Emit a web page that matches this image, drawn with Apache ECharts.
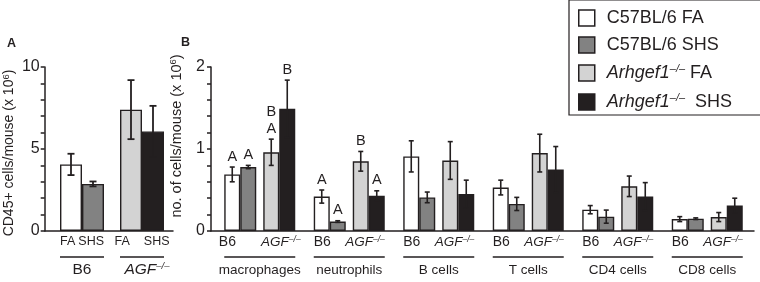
<!DOCTYPE html>
<html>
<head>
<meta charset="utf-8">
<script src="https://cdn.jsdelivr.net/npm/echarts@6/dist/echarts.min.js"></script>
<style>
  html, body { margin: 0; padding: 0; background: #fff; }
  #chart { width: 760px; height: 282px; }
</style>
</head>
<body>
<div id="chart"></div>
<script>
// Panel A: CD45+ cells/mouse (x 10^6), groups [B6, AGF-/-]
const totalGroups = ['B6', 'AGF'];
const totalFA = [4.06, 7.4];
const totalFAErr = [0.65, 1.8];
const totalSHS = [2.87, 6.07];
const totalSHSErr = [0.15, 1.56];

// Panel B: no. of cells/mouse (x 10^6) per cell type
const cellTypes = ['macrophages', 'neutrophils', 'B cells', 'T cells', 'CD4 cells', 'CD8 cells'];
const b6FA = [0.69, 0.42, 0.91, 0.53, 0.26, 0.145];
const b6FAErr = [0.09, 0.08, 0.19, 0.09, 0.05, 0.03];
const b6SHS = [0.78, 0.115, 0.41, 0.33, 0.175, 0.15];
const b6SHSErr = [0.02, 0.01, 0.065, 0.08, 0.08, 0.01];
const agfFA = [0.96, 0.85, 0.86, 0.95, 0.545, 0.17];
const agfFAErr = [0.16, 0.12, 0.23, 0.23, 0.125, 0.055];
const agfSHS = [1.49, 0.43, 0.45, 0.75, 0.42, 0.31];
const agfSHSErr = [0.35, 0.06, 0.17, 0.28, 0.17, 0.09];

// significance letters above the bars
const b6FALetters = ['A', 'A', '', '', '', ''];
const b6SHSLetters = ['A', 'A', '', '', '', ''];
const agfFALetters = ['B\nA', 'B', '', '', '', ''];
const agfSHSLetters = ['B', 'A', '', '', '', ''];

const legendNames = ['C57BL/6 FA', 'C57BL/6 SHS', 'Arhgef1 FA', 'Arhgef1 SHS'];

const font = 'Liberation Sans';
const ink = '#231f20';
const colors = ['#ffffff', '#828282', '#d3d3d3', '#231f20'];

const barWA = 22;
const barWB = 16;
const gapWB = 7;
const offsetsA = [-barWA / 2, barWA / 2];
const offsetsB = [
  -(gapWB / 2 + barWB * 1.5),
  -(gapWB / 2 + barWB / 2),
  gapWB / 2 + barWB / 2,
  gapWB / 2 + barWB * 1.5,
];

const ts = (extra) => Object.assign({ fontFamily: font, color: ink }, extra);

function errorBars(rows, offsets, cap, lw) {
  return function (params, api) {
    const cat = api.value(0);
    const mean = api.value(1);
    const err = api.value(2);
    const slot = api.value(3);
    const x = api.coord([cat, mean])[0] + offsets[slot];
    const hi = api.coord([cat, mean + err])[1];
    const lo = api.coord([cat, mean - err])[1];
    const st = { stroke: ink, lineWidth: lw };
    const kids = [
      { type: 'line', shape: { x1: x, y1: hi, x2: x, y2: lo }, style: st },
      { type: 'line', shape: { x1: x - cap / 2, y1: hi, x2: x + cap / 2, y2: hi }, style: st },
      { type: 'line', shape: { x1: x - cap / 2, y1: lo, x2: x + cap / 2, y2: lo }, style: st },
    ];
    const letter = rows[params.dataIndex].letter;
    if (letter) {
      kids.push({
        type: 'text',
        style: {
          text: letter, x: x, y: hi - 2, align: 'center', verticalAlign: 'bottom',
          fontFamily: font, fontSize: 14.5, lineHeight: 17, fill: ink,
        },
      });
    }
    return { type: 'group', children: kids };
  };
}

const rowsA = [];
totalGroups.forEach((g, i) => {
  rowsA.push({ cat: i, mean: totalFA[i], err: totalFAErr[i], slot: 0, letter: '' });
  rowsA.push({ cat: i, mean: totalSHS[i], err: totalSHSErr[i], slot: 1, letter: '' });
});

const rowsB = [];
const setsB = [
  [b6FA, b6FAErr, b6FALetters],
  [b6SHS, b6SHSErr, b6SHSLetters],
  [agfFA, agfFAErr, agfFALetters],
  [agfSHS, agfSHSErr, agfSHSLetters],
];
setsB.forEach(([vals, errs, letters], s) => {
  vals.forEach((v, i) => rowsB.push({ cat: i, mean: v, err: errs[i], slot: s, letter: letters[i] }));
});

const chart = echarts.init(document.getElementById('chart'));

const supStyle = (size, raise, lh) => ts({ fontSize: size, fontStyle: 'italic', padding: [0, 0, raise, 0], lineHeight: lh });
const isWhole = (v, step) => Math.abs(v / step - Math.round(v / step)) < 1e-6;

// tick marks every 1 (A) / 0.2 (B), labels only on the round ones
const tickStyle = { show: true, inside: false, length: 4, lineStyle: { color: ink, width: 1.5 } };

const option = {
  animation: false,
  backgroundColor: '#fff',
  title: [
    { text: 'A', left: 7, top: 37, padding: 0, textStyle: ts({ fontSize: 12.5, fontWeight: 'bold' }) },
    { text: 'B', left: 181, top: 36, padding: 0, textStyle: ts({ fontSize: 12.5, fontWeight: 'bold' }) },
  ],
  legend: {
    data: legendNames,
    orient: 'vertical',
    left: 569,
    top: 0,
    padding: [9, 30, 3, 9],
    itemWidth: 16,
    itemHeight: 16,
    itemGap: 9,
    icon: 'rect',
    borderColor: ink,
    borderWidth: 1.2,
    backgroundColor: '#fff',
    itemStyle: { borderColor: ink, borderWidth: 1.5 },
    formatter: (name) => {
      const parts = name.split(' ');
      if (parts[0] === 'Arhgef1') {
        return '{pad|}{it|Arhgef1}{sup|–/–}{tx|' + (parts[1] === 'SHS' ? '  SHS' : ' FA') + '}';
      }
      return '{pad|}{tx|' + name + '}';
    },
    textStyle: ts({
      fontSize: 18,
      rich: {
        pad: { width: 7 },
        tx: ts({ fontSize: 18, lineHeight: 18 }),
        it: ts({ fontSize: 18, fontStyle: 'italic', lineHeight: 18 }),
        sup: supStyle(11, 9, 18),
      },
    }),
  },
  grid: [
    { left: 43, top: 67, width: 130, height: 164 },
    { left: 52, top: 67, width: 120, height: 164 },
    { left: 211, top: 67, width: 543, height: 164 },
    { left: 215, top: 67, width: 537, height: 164 },
  ],
  xAxis: [
    {
      gridIndex: 0, type: 'category', data: [''],
      axisLine: { lineStyle: { color: ink, width: 1.5 } },
      axisTick: { show: false }, axisLabel: { show: false },
    },
    {
      gridIndex: 1, type: 'category', data: totalGroups,
      axisLine: { show: false }, axisTick: { show: false },
      axisLabel: {
        interval: 0, margin: 4,
        formatter: (v) => '{f|FA}{h|SHS}\n{hr|}\n' + (v === 'B6' ? '{gb|B6}' : '{sp|}{ga|AGF}{gs|–/–}'),
        rich: {
          f: ts({ fontSize: 12.5, align: 'left', lineHeight: 14 }),
          h: ts({ fontSize: 12.5, align: 'right', lineHeight: 14 }),
          hr: { width: 44, height: 0, borderColor: ink, borderWidth: 1.5, lineHeight: 16 },
          gb: ts({ fontSize: 15.5, lineHeight: 10 }),
          sp: { width: 10, lineHeight: 10 },
          ga: ts({ fontSize: 15.5, fontStyle: 'italic', lineHeight: 10 }),
          gs: supStyle(9.5, 7, 10),
        },
      },
    },
    {
      gridIndex: 2, type: 'category', data: [''],
      axisLine: { lineStyle: { color: ink, width: 1.5 } },
      axisTick: { show: false }, axisLabel: { show: false },
    },
    {
      gridIndex: 3, type: 'category', data: cellTypes,
      axisLine: { show: false }, axisTick: { show: false },
      axisLabel: {
        interval: 0, margin: 4,
        formatter: (v) => '{b|B6}{a|AGF}{s|–/–}\n{hr|}\n{g|' + v + '}',
        rich: {
          b: ts({ fontSize: 14, align: 'left', lineHeight: 15 }),
          a: ts({ fontSize: 13.5, fontStyle: 'italic', align: 'right', lineHeight: 15 }),
          s: Object.assign(supStyle(8.5, 6, 15), { align: 'right' }),
          hr: { width: 71, height: 0, borderColor: ink, borderWidth: 1.5, lineHeight: 14 },
          g: ts({ fontSize: 13.5, lineHeight: 13 }),
        },
      },
    },
  ],
  yAxis: [
    {
      gridIndex: 0, type: 'value', min: 0, max: 10, interval: 1,
      name: 'CD45+ cells/mouse (x 10{s|6})',
      nameLocation: 'middle', nameGap: 25,
      nameTextStyle: ts({
        fontSize: 14, padding: [0, 8, 0, 0],
        rich: { s: ts({ fontSize: 9.5, padding: [0, 0, 7, 0], lineHeight: 14 }) },
      }),
      axisLine: { show: true, lineStyle: { color: ink, width: 1.5 } },
      axisTick: tickStyle,
      splitLine: { show: false },
      axisLabel: ts({ show: true, fontSize: 16, margin: 5, formatter: (v) => (isWhole(v, 5) ? String(v) : '') }),
    },
    { gridIndex: 1, type: 'value', min: 0, max: 10, show: false, splitLine: { show: false } },
    {
      gridIndex: 2, type: 'value', min: 0, max: 2, interval: 0.2,
      name: 'no. of cells/mouse (x 10{s|6})',
      nameLocation: 'middle', nameGap: 26,
      nameTextStyle: ts({
        fontSize: 14.5, padding: [0, 0, 0, 26],
        rich: { s: ts({ fontSize: 9.5, padding: [0, 0, 7, 0], lineHeight: 14 }) },
      }),
      axisLine: { show: true, lineStyle: { color: ink, width: 1.5 } },
      axisTick: tickStyle,
      splitLine: { show: false },
      axisLabel: ts({ show: true, fontSize: 16, margin: 6, formatter: (v) => (isWhole(v, 1) ? String(Math.round(v)) : '') }),
    },
    { gridIndex: 3, type: 'value', min: 0, max: 2, show: false, splitLine: { show: false } },
  ],
  series: [
    {
      type: 'bar', name: 'total FA', xAxisIndex: 1, yAxisIndex: 1,
      barWidth: barWA, barGap: '0%',
      data: totalFA.map((v, i) => ({ value: v, itemStyle: { color: colors[i * 2] } })),
      itemStyle: { borderColor: ink, borderWidth: 1.4 },
    },
    {
      type: 'bar', name: 'total SHS', xAxisIndex: 1, yAxisIndex: 1,
      barWidth: barWA, barGap: '0%',
      data: totalSHS.map((v, i) => ({ value: v, itemStyle: { color: colors[i * 2 + 1] } })),
      itemStyle: { borderColor: ink, borderWidth: 1.4 },
    },
    {
      type: 'custom', name: 'total err', xAxisIndex: 1, yAxisIndex: 1, z: 5, clip: false,
      renderItem: errorBars(rowsA, offsetsA, 7, 1.8),
      data: rowsA.map((r) => [r.cat, r.mean, r.err, r.slot]),
    },
    {
      type: 'bar', name: legendNames[0], xAxisIndex: 3, yAxisIndex: 3,
      barWidth: barWB, barGap: '0%', data: b6FA,
      itemStyle: { color: colors[0], borderColor: ink, borderWidth: 1.4 },
    },
    {
      type: 'bar', name: legendNames[1], xAxisIndex: 3, yAxisIndex: 3,
      barWidth: barWB, barGap: '0%', data: b6SHS,
      itemStyle: { color: colors[1], borderColor: ink, borderWidth: 1.4 },
    },
    {
      type: 'bar', name: 'spacer', xAxisIndex: 3, yAxisIndex: 3,
      barWidth: gapWB, barGap: '0%', data: cellTypes.map(() => null),
    },
    {
      type: 'bar', name: legendNames[2], xAxisIndex: 3, yAxisIndex: 3,
      barWidth: barWB, barGap: '0%', data: agfFA,
      itemStyle: { color: colors[2], borderColor: ink, borderWidth: 1.4 },
    },
    {
      type: 'bar', name: legendNames[3], xAxisIndex: 3, yAxisIndex: 3,
      barWidth: barWB, barGap: '0%', data: agfSHS,
      itemStyle: { color: colors[3], borderColor: ink, borderWidth: 1.4 },
    },
    {
      type: 'custom', name: 'cell err', xAxisIndex: 3, yAxisIndex: 3, z: 5, clip: false,
      renderItem: errorBars(rowsB, offsetsB, 5, 1.6),
      data: rowsB.map((r) => [r.cat, r.mean, r.err, r.slot]),
    },
  ],
};

chart.setOption(option);
</script>
</body>
</html>
